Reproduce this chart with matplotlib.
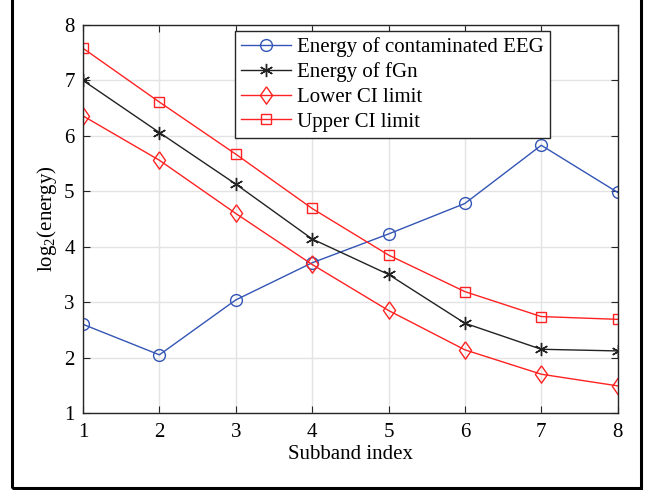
import numpy as np
import matplotlib.pyplot as plt
from matplotlib.patches import Rectangle

plt.rcParams['font.family'] = ['Liberation Serif', 'DejaVu Serif']
plt.rcParams['mathtext.fontset'] = 'custom'
plt.rcParams['mathtext.rm'] = 'Liberation Serif'

subband = [1, 2, 3, 4, 5, 6, 7, 8]
energy_eeg = [2.60, 2.05, 3.04, 3.71, 4.23, 4.78, 5.83, 4.98]
energy_fgn = [7.00, 6.06, 5.13, 4.14, 3.50, 2.62, 2.15, 2.12]
ci_lower = [6.36, 5.56, 4.60, 3.68, 2.85, 2.14, 1.70, 1.49]
ci_upper = [7.58, 6.61, 5.67, 4.69, 3.85, 3.19, 2.74, 2.69]

fig = plt.figure(figsize=(6.52, 4.90), dpi=100)
ax = fig.add_axes([0.1273, 0.1571, 0.82, 0.7919])

asterisk = (6, 2, 0)
diamond = [(0, 1), (0.7, 0), (0, -1), (-0.7, 0), (0, 1)]
ax.plot(subband, energy_eeg, '-o', color='#3355b5', lw=1, ms=8.5, mfc='none',
        label='Energy of contaminated EEG')
ax.plot(subband, energy_fgn, '-', marker=asterisk, color='#222222', lw=1,
        ms=9.5, mew=1, label='Energy of fGn')
ax.plot(subband, ci_lower, '-', marker=diamond, color='#ff2222', lw=1,
        ms=12.5, mfc='none', label='Lower CI limit')
ax.plot(subband, ci_upper, '-s', color='#ff2222', lw=1, ms=7.5, mfc='none',
        label='Upper CI limit')

ax.set_xlim(1, 8)
ax.set_ylim(1, 8)
ax.set_xticks(subband)
ax.set_yticks(range(1, 9))
ax.grid(True, color='#e3e3e3', lw=1)
ax.set_axisbelow(True)
ax.tick_params(direction='in', top=True, right=True, labelsize=15,
               length=5, color='#262626', pad=7)
ax.tick_params(axis='y', pad=6)
for s in ax.spines.values():
    s.set_color('#262626')
    s.set_linewidth(1)

ax.set_xlabel('Subband index', fontsize=15, labelpad=2)
ax.set_ylabel('log$_2$(energy)', fontsize=15, labelpad=4)

leg = ax.legend(loc='upper left', bbox_to_anchor=(0.2836, 0.985), fontsize=15,
                fancybox=False, framealpha=1, edgecolor='#262626',
                handlelength=2.4, handletextpad=0.3, borderpad=0.3,
                labelspacing=0.25, borderaxespad=0)
leg.get_frame().set_linewidth(1)

fig.patches.append(Rectangle((12 / 652, 2 / 490), 629 / 652, 500 / 490,
                             transform=fig.transFigure, fill=False,
                             edgecolor='black', lw=2.2))

fig.savefig('out.png', dpi=100)
